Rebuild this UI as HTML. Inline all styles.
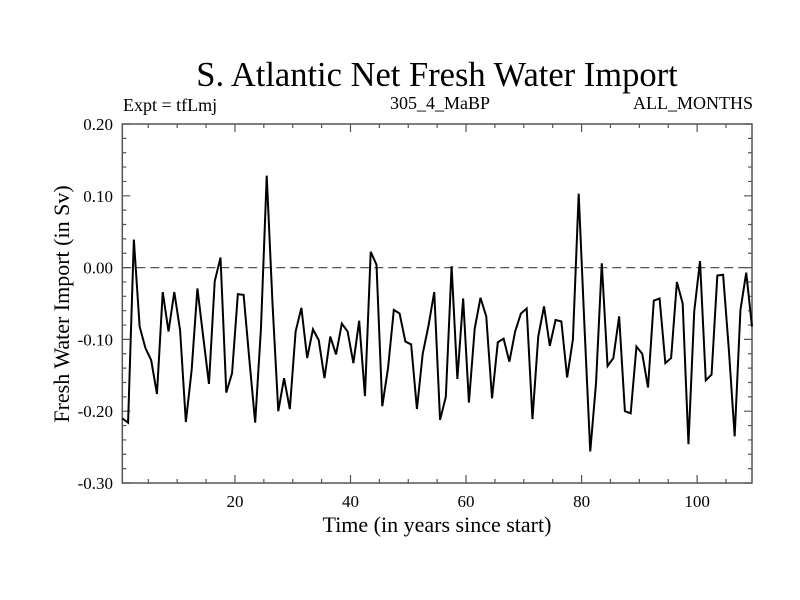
<!DOCTYPE html>
<html><head><meta charset="utf-8"><style>
html,body{margin:0;padding:0;background:#fff;}
svg{display:block;font-family:"Liberation Serif",serif;}
</style></head><body>
<svg id="chart" width="800" height="600" viewBox="0 0 800 600">
<text x="437" y="86" text-anchor="middle" font-size="34.5">S. Atlantic Net Fresh Water Import</text>
<text x="123" y="111" font-size="18">Expt = tfLmj</text>
<text x="440" y="109" text-anchor="middle" font-size="18">305_4_MaBP</text>
<text x="753" y="109" text-anchor="end" font-size="18">ALL_MONTHS</text>
<text x="437" y="532" text-anchor="middle" font-size="22">Time (in years since start)</text>
<text transform="translate(69,304) rotate(-90)" text-anchor="middle" font-size="22">Fresh Water Import (in Sv)</text>
<g id="axes"></g>
<g id="marks"></g>
</svg>
<script>
const yTickValues = [0.2, 0.1, 0.0, -0.1, -0.2, -0.3];
const yTickLabels = ["0.20", "0.10", "0.00", "-0.10", "-0.20", "-0.30"];
const xTickValues = [20, 40, 60, 80, 100];
const xTickLabels = ["20", "40", "60", "80", "100"];
const years = Array.from({length:110},(_, i)=>i+0.5);
const importValues = [
-0.210,-0.216,0.039,-0.082,-0.112,-0.129,-0.176,-0.034,-0.089,-0.034,
-0.087,-0.215,-0.143,-0.029,-0.096,-0.162,-0.019,0.014,-0.174,-0.147,
-0.037,-0.038,-0.129,-0.216,-0.085,0.128,-0.050,-0.200,-0.154,-0.197,
-0.089,-0.056,-0.126,-0.086,-0.101,-0.154,-0.096,-0.121,-0.078,-0.089,
-0.133,-0.074,-0.179,0.022,0.004,-0.193,-0.140,-0.059,-0.064,-0.103,
-0.107,-0.197,-0.120,-0.081,-0.034,-0.212,-0.180,0.002,-0.155,-0.043,
-0.188,-0.085,-0.042,-0.068,-0.182,-0.104,-0.099,-0.131,-0.089,-0.064,
-0.057,-0.211,-0.096,-0.054,-0.109,-0.073,-0.075,-0.153,-0.100,0.103,
-0.082,-0.256,-0.161,0.006,-0.137,-0.126,-0.068,-0.200,-0.203,-0.110,
-0.120,-0.167,-0.046,-0.043,-0.133,-0.126,-0.020,-0.050,-0.246,-0.061,
0.009,-0.157,-0.149,-0.011,-0.010,-0.115,-0.235,-0.059,-0.007,-0.082];
const L=122.3,R=752,T=124,B=483,XMIN=0.5,XMAX=109.5,YMIN=-0.3,YMAX=0.2;
const sx=v=>L+(v-XMIN)/(XMAX-XMIN)*(R-L);
const sy=v=>B-(v-YMIN)/(YMAX-YMIN)*(B-T);
const NS="http://www.w3.org/2000/svg";
const axes=document.getElementById('axes'), marks=document.getElementById('marks');
function mk(tag,attrs,parent){const e=document.createElementNS(NS,tag);for(const k in attrs)e.setAttribute(k,attrs[k]);parent.appendChild(e);return e;}
const frame=mk('rect',{x:L,y:T,width:R-L,height:B-T,fill:'none',stroke:'#555','stroke-width':1.5},axes);


let tk='';
for(let k=-15;k<=10;k++){const v=k*0.02;const y=sy(v);const major=k%5===0;const len=major?8:4;
 tk+=`M${L} ${y}h${len}M${R} ${y}h${-len}`;}
for(let v=5;v<=105;v+=5){const x=sx(v);const len=v%20===0?8:4;tk+=`M${x} ${B}v${-len}M${x} ${T}v${len}`;}
const ticks=mk('path',{d:tk,stroke:'#555','stroke-width':1.2,fill:'none'},axes);


yTickValues.forEach((v,i)=>{const t=mk('text',{x:113,y:sy(v)+6,'text-anchor':'end','font-size':17},axes);t.textContent=yTickLabels[i];
 
 });
xTickValues.forEach((v,i)=>{const t=mk('text',{x:sx(v),y:507,'text-anchor':'middle','font-size':17},axes);t.textContent=xTickLabels[i];
 
 });
const zl=mk('line',{x1:L,x2:R,y1:sy(0),y2:sy(0),stroke:'#555','stroke-width':1.2,'stroke-dasharray':'9,5'},marks);


const d=importValues.map((v,i)=>(i?'L':'M')+sx(years[i]).toFixed(2)+' '+sy(v).toFixed(2)).join('');
const line=mk('path',{d:d,fill:'none',stroke:'#000','stroke-width':2,'stroke-linejoin':'miter'},marks);


</script>
</body></html>
